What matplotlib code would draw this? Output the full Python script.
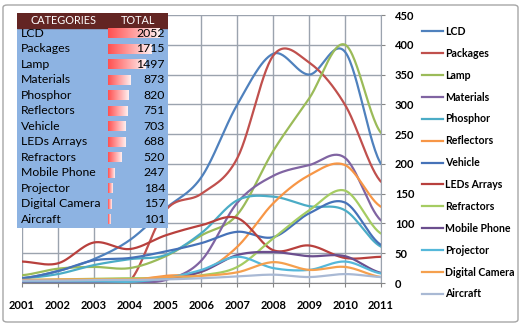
import numpy as np
import matplotlib.pyplot as plt
from matplotlib.colors import LinearSegmentedColormap
from matplotlib.lines import Line2D
from matplotlib.patches import FancyBboxPatch, Rectangle

plt.rcParams['font.family'] = ['Lato', 'DejaVu Sans']

years = np.arange(2001, 2012)
categories = ["LCD", "Packages", "Lamp", "Materials", "Phosphor", "Reflectors", "Vehicle",
              "LEDs Arrays", "Refractors", "Mobile Phone", "Projector", "Digital Camera", "Aircraft"]
totals = [2052, 1715, 1497, 873, 820, 751, 703, 688, 520, 247, 184, 157, 101]

lcd        = [8, 20, 40, 72, 125, 178, 300, 385, 350, 388, 200]
packages   = [0, 0, 0, 3, 122, 150, 210, 382, 370, 299, 170]
lamp       = [13, 24, 27, 25, 45, 80, 115, 222, 310, 400, 252]
materials  = [1, 1, 1, 2, 5, 38, 135, 180, 198, 210, 105]
phosphor   = [8, 15, 30, 40, 47, 84, 139, 145, 129, 122, 61]
reflectors = [4, 4, 5, 5, 12, 19, 61, 134, 181, 198, 128]
vehicle    = [8, 20, 38, 42, 53, 67, 86, 77, 117, 135, 64]
leds       = [36, 33, 68, 57, 80, 97, 109, 55, 63, 42, 44]
refractors = [5, 6, 7, 8, 8, 13, 27, 75, 122, 155, 83]
mobile     = [3, 3, 4, 4, 8, 19, 47, 52, 45, 45, 17]
projector  = [3, 3, 3, 2, 8, 22, 44, 25, 22, 36, 16]
camera     = [5, 6, 6, 6, 10, 12, 18, 35, 22, 27, 10]
aircraft   = [4, 4, 5, 5, 6, 8, 11, 14, 10, 15, 10]

series = [lcd, packages, lamp, materials, phosphor, reflectors, vehicle,
          leds, refractors, mobile, projector, camera, aircraft]
colors = ['#4F81BD', '#C0504D', '#9BBB59', '#8064A2', '#4BACC6', '#F79646', '#4672B8',
          '#B8403D', '#A5CC62', '#6B4E8E', '#55B8DA', '#F5A04E', '#A9B9D4']


def smooth(x, y, n=30):
    # excel-like smoothed line (cardinal / catmull-rom)
    y = np.asarray(y, float)
    m = np.empty_like(y)
    m[1:-1] = (y[2:] - y[:-2]) / 2
    m[0] = (y[1] - y[0]) / 2
    m[-1] = (y[-1] - y[-2]) / 2
    xs, ys = [], []
    t = np.linspace(0, 1, n, endpoint=False)
    for i in range(len(y) - 1):
        h00 = 2 * t**3 - 3 * t**2 + 1
        h10 = t**3 - 2 * t**2 + t
        h01 = -2 * t**3 + 3 * t**2
        h11 = t**3 - t**2
        ys.append(h00 * y[i] + h10 * m[i] + h01 * y[i + 1] + h11 * m[i + 1])
        xs.append(x[i] + t * (x[i + 1] - x[i]))
    xs.append([x[-1]])
    ys.append([y[-1]])
    return np.concatenate(xs), np.concatenate(ys)


fig = plt.figure(figsize=(5.27, 3.26), dpi=100)
border = FancyBboxPatch((3 / 527, 4 / 326), 515 / 527, 317 / 326,
                        boxstyle='round,pad=0,rounding_size=0.008',
                        transform=fig.transFigure, fc='none', ec='#A6A6A6', lw=1, zorder=10)
fig.patches.append(border)

ax = fig.add_axes([22 / 527, 1 - 283 / 326, 359 / 527, 268 / 326])
ax.set_facecolor('none')
for s, c in zip(series, colors):
    xs, ys = smooth(years, s)
    ax.plot(xs, ys, color=c, lw=1.6, solid_capstyle='round')

ax.set_xlim(2001, 2011)
ax.set_ylim(0, 450)
ax.set_xticks(years)
ax.set_yticks(np.arange(0, 451, 50))
ax.grid(True, color='#9BA3AE', lw=1)
ax.set_axisbelow(True)
for side in ['left', 'top']:
    ax.spines[side].set_visible(False)
ax.spines['right'].set_color('#9BA3AE')
ax.spines['bottom'].set_color('#868686')
ax.yaxis.tick_right()
ax.tick_params(axis='y', length=3, pad=7, color='#868686', labelsize=8)
ax.tick_params(axis='x', length=3, pad=9, color='#868686', labelsize=8)
for lab in ax.get_xticklabels() + ax.get_yticklabels():
    lab.set_fontweight('bold')

handles = [Line2D([], [], color=c, lw=1.6) for c in colors]
fig.legend(handles, categories, loc='upper left', bbox_to_anchor=(422 / 527, 1 - 26 / 326),
           frameon=False, handlelength=2.0, handletextpad=0.2,
           labelspacing=1.03, borderpad=0, borderaxespad=0, prop={'weight': 'bold', 'size': 7.6})

# summary table
tab = fig.add_axes([17 / 527, 1 - 228 / 326, 151 / 527, 215.5 / 326])
tab.set_xlim(0, 151)
tab.set_ylim(215.5, 0)
tab.axis('off')
tab.add_patch(Rectangle((0, 0), 151, 215.5, color='#8DB3E2'))
tab.add_patch(Rectangle((0, 0), 151, 15, color='#632523'))
tab.text(46.5, 7.8, 'CATEGORIES', color='white', fontsize=7.8, ha='center', va='center')
tab.text(121, 7.8, 'TOTAL', color='white', fontsize=7.8, ha='center', va='center')

row_y = 20.8 + 15.48 * np.arange(len(categories))
widths = np.array(totals) / max(totals) * 52
bars = tab.barh(row_y, widths, left=91, height=10, color='none')
cmap = LinearSegmentedColormap.from_list('bar', ['#FF5050', '#FFF0F0'])
grad = np.linspace(0, 1, 256).reshape(1, -1)
for b in bars:
    x0, y0, w, h = b.get_x(), b.get_y(), b.get_width(), b.get_height()
    tab.imshow(grad, extent=[x0, x0 + w, y0 + h, y0], cmap=cmap, aspect='auto',
               clip_path=b, clip_on=True, zorder=2)
tab.set_xlim(0, 151)
tab.set_ylim(215.5, 0)

for y, name, tot in zip(row_y, categories, totals):
    tab.text(4, y, name, fontsize=8.8, va='center', ha='left', zorder=3)
    tab.text(148, y, str(tot), fontsize=8.8, va='center', ha='right', zorder=3)

fig.savefig('out.png', dpi=100)
